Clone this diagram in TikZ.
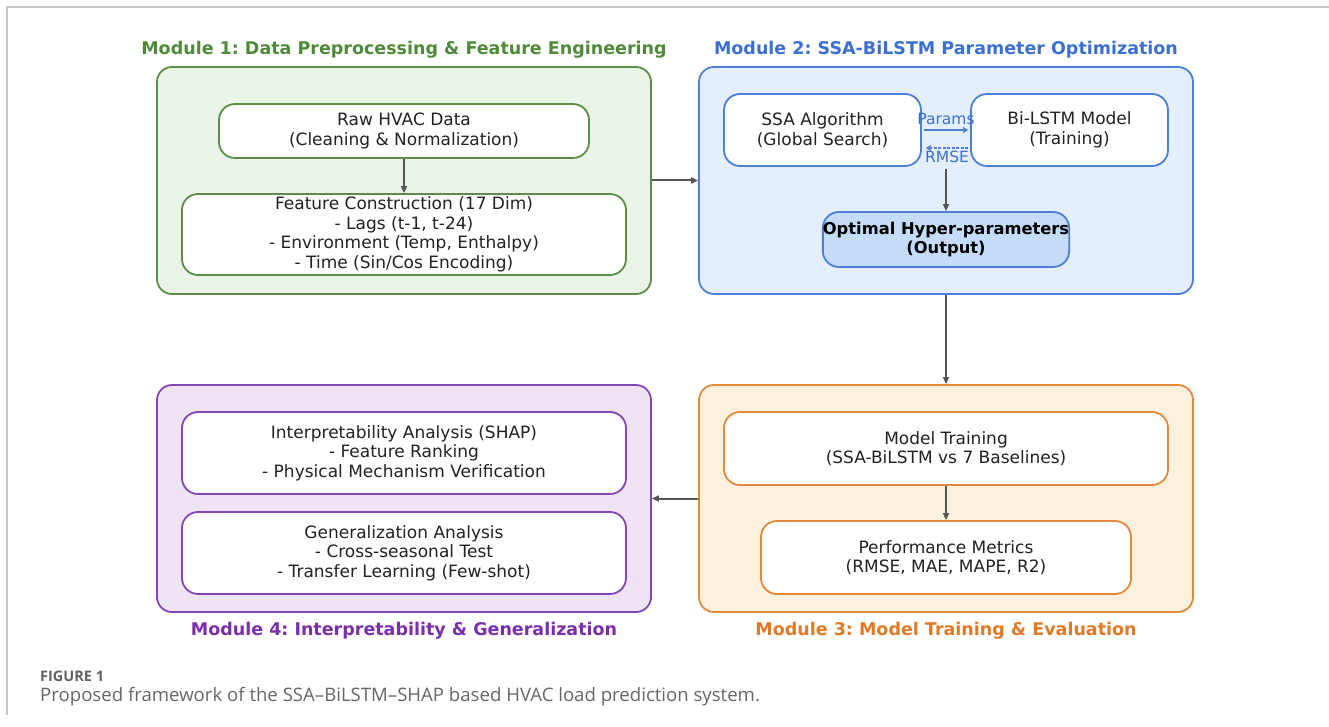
\documentclass[tikz,border=0pt]{standalone}
\usepackage{fontspec}
\setmainfont{DejaVu Sans}
\newfontfamily\capfont{Open Sans}
\usetikzlibrary{arrows.meta,calc}
\definecolor{gA}{HTML}{5A8F45}
\definecolor{gAfill}{HTML}{EAF4E6}
\definecolor{gAtxt}{HTML}{4F8A3A}
\definecolor{bA}{HTML}{4E7FD6}
\definecolor{bAfill}{HTML}{E4EFFB}
\definecolor{bAtxt}{HTML}{3C6FD2}
\definecolor{bOpt}{HTML}{C5DCF8}
\definecolor{oA}{HTML}{E4883A}
\definecolor{oAfill}{HTML}{FCF1DF}
\definecolor{oAtxt}{HTML}{E07A26}
\definecolor{pA}{HTML}{8445B5}
\definecolor{pAfill}{HTML}{EFE4F4}
\definecolor{pAtxt}{HTML}{7B2EAA}
\definecolor{arrgray}{HTML}{555555}
\definecolor{txt}{HTML}{222222}
\tikzset{
  x=1pt, y=-1pt,
  module/.style={draw, line width=1.8pt, rounded corners=15pt, inner sep=0pt},
  inbox/.style={draw, line width=1.8pt, fill=white, rounded corners=16pt, inner sep=0pt, align=center, text=txt, font=\fontsize{17}{19.5}\selectfont},
  mtitle/.style={font=\bfseries\fontsize{17.5}{20}\selectfont, inner sep=0pt},
  arr/.style={draw=arrgray, line width=2pt, -{Triangle[length=7pt,width=6pt]}},
  small/.style={draw=bA, line width=1.2pt, -{Straight Barb[length=4pt,width=5pt]}},
}
\begin{document}
\frenchspacing
\begin{tikzpicture}
\useasboundingbox (0,0) rectangle (1329,727);
% page frame
\draw[black!22, line width=1.4pt] (7,715) -- (7,7) -- (1329,7);

% Module 1
\node[module, draw=gA, fill=gAfill, minimum width=494pt, minimum height=227pt] (m1) at (404,180.5) {};
\node[mtitle, text=gAtxt] (t1) at (404,49.5) {Module 1: Data Preprocessing \& Feature Engineering};
\node[inbox, draw=gA, minimum width=370pt, minimum height=54pt] (raw) at (404,131) {Raw HVAC Data\\(Cleaning \& Normalization)};
\node[inbox, draw=gA, minimum width=444pt, minimum height=81pt] (feat) at (404,234.5) {Feature Construction (17 Dim)\\- Lags (t-1, t-24)\\- Environment (Temp, Enthalpy)\\- Time (Sin/Cos Encoding)};

% Module 2
\node[module, draw=bA, fill=bAfill, minimum width=494pt, minimum height=227pt] (m2) at (946,180.5) {};
\node[mtitle, text=bAtxt] (t2) at (946,49.5) {Module 2: SSA-BiLSTM Parameter Optimization};
\node[inbox, draw=bA, minimum width=197pt, minimum height=72pt] (ssa) at (822.5,130) {SSA Algorithm\\(Global Search)};
\node[inbox, draw=bA, minimum width=197pt, minimum height=72pt] (bil) at (1069.5,130) {Bi-LSTM Model\\(Training)};
\node[inbox, draw=bA, fill=bOpt, minimum width=246pt, minimum height=55pt, font=\bfseries\fontsize{16.3}{19}\selectfont, text=black] (opt) at (946,239.5) {Optimal Hyper-parameters\\(Output)};
\draw[small] ([xshift=2pt]ssa.east) -- node[above=5pt, text=bAtxt, font=\fontsize{15.5}{17}\selectfont, inner sep=0pt] {Params} ([xshift=-2pt]bil.west);
\draw[small, dashed, dash pattern=on 3pt off 1.5pt] ([xshift=-2pt,yshift=-18pt]bil.west) -- node[below=2pt, text=bAtxt, font=\fontsize{15.5}{17}\selectfont, inner sep=0pt] {RMSE} ([xshift=4pt,yshift=-18pt]ssa.east);
\coordinate (mid) at ($(ssa.south east)!0.5!(bil.south west)+(0,2)$);
\draw[arr] (mid) -- (opt.north);

% Module 3
\node[module, draw=oA, fill=oAfill, minimum width=494pt, minimum height=227pt] (m3) at (946,498.5) {};
\node[mtitle, text=oAtxt] (t3) at (946,630.5) {Module 3: Model Training \& Evaluation};
\node[inbox, draw=oA, minimum width=444pt, minimum height=73pt] (train) at (946,448.5) {Model Training\\(SSA-BiLSTM vs 7 Baselines)};
\node[inbox, draw=oA, minimum width=370pt, minimum height=73pt] (perf) at (946,557.5) {Performance Metrics\\(RMSE, MAE, MAPE, R2)};
\draw[arr] (train.south) -- (perf.north);

% Module 4
\node[module, draw=pA, fill=pAfill, minimum width=494pt, minimum height=227pt] (m4) at (404,498.5) {};
\node[mtitle, text=pAtxt] (t4) at (404,630.5) {Module 4: Interpretability \& Generalization};
\node[inbox, draw=pA, minimum width=444pt, minimum height=82pt] (interp) at (404,453) {Interpretability Analysis (SHAP)\\- Feature Ranking\\- Physical Mechanism Verification};
\node[inbox, draw=pA, minimum width=444pt, minimum height=82pt] (gen) at (404,553) {Generalization Analysis\\- Cross-seasonal Test\\- Transfer Learning (Few-shot)};

% inter-module arrows
\draw[arr] (raw.south) -- (feat.north);
\draw[arr] (m1.east) -- (m2.west);
\draw[arr] (m2.south) -- (m3.north);
\draw[arr] (m3.west) -- (m4.east);

% caption
\node[anchor=base west, inner sep=0pt, text=black!62, font=\capfont\bfseries\fontsize{14.5}{16}\selectfont] (figlab) at (40,681) {FIGURE 1};
\node[anchor=base west, inner sep=0pt, text=black!60, font=\capfont\fontsize{18.6}{21}\selectfont] (cap) at (40,701) {Proposed framework of the SSA–BiLSTM–SHAP based HVAC load prediction system.};
\end{tikzpicture}
\end{document}
